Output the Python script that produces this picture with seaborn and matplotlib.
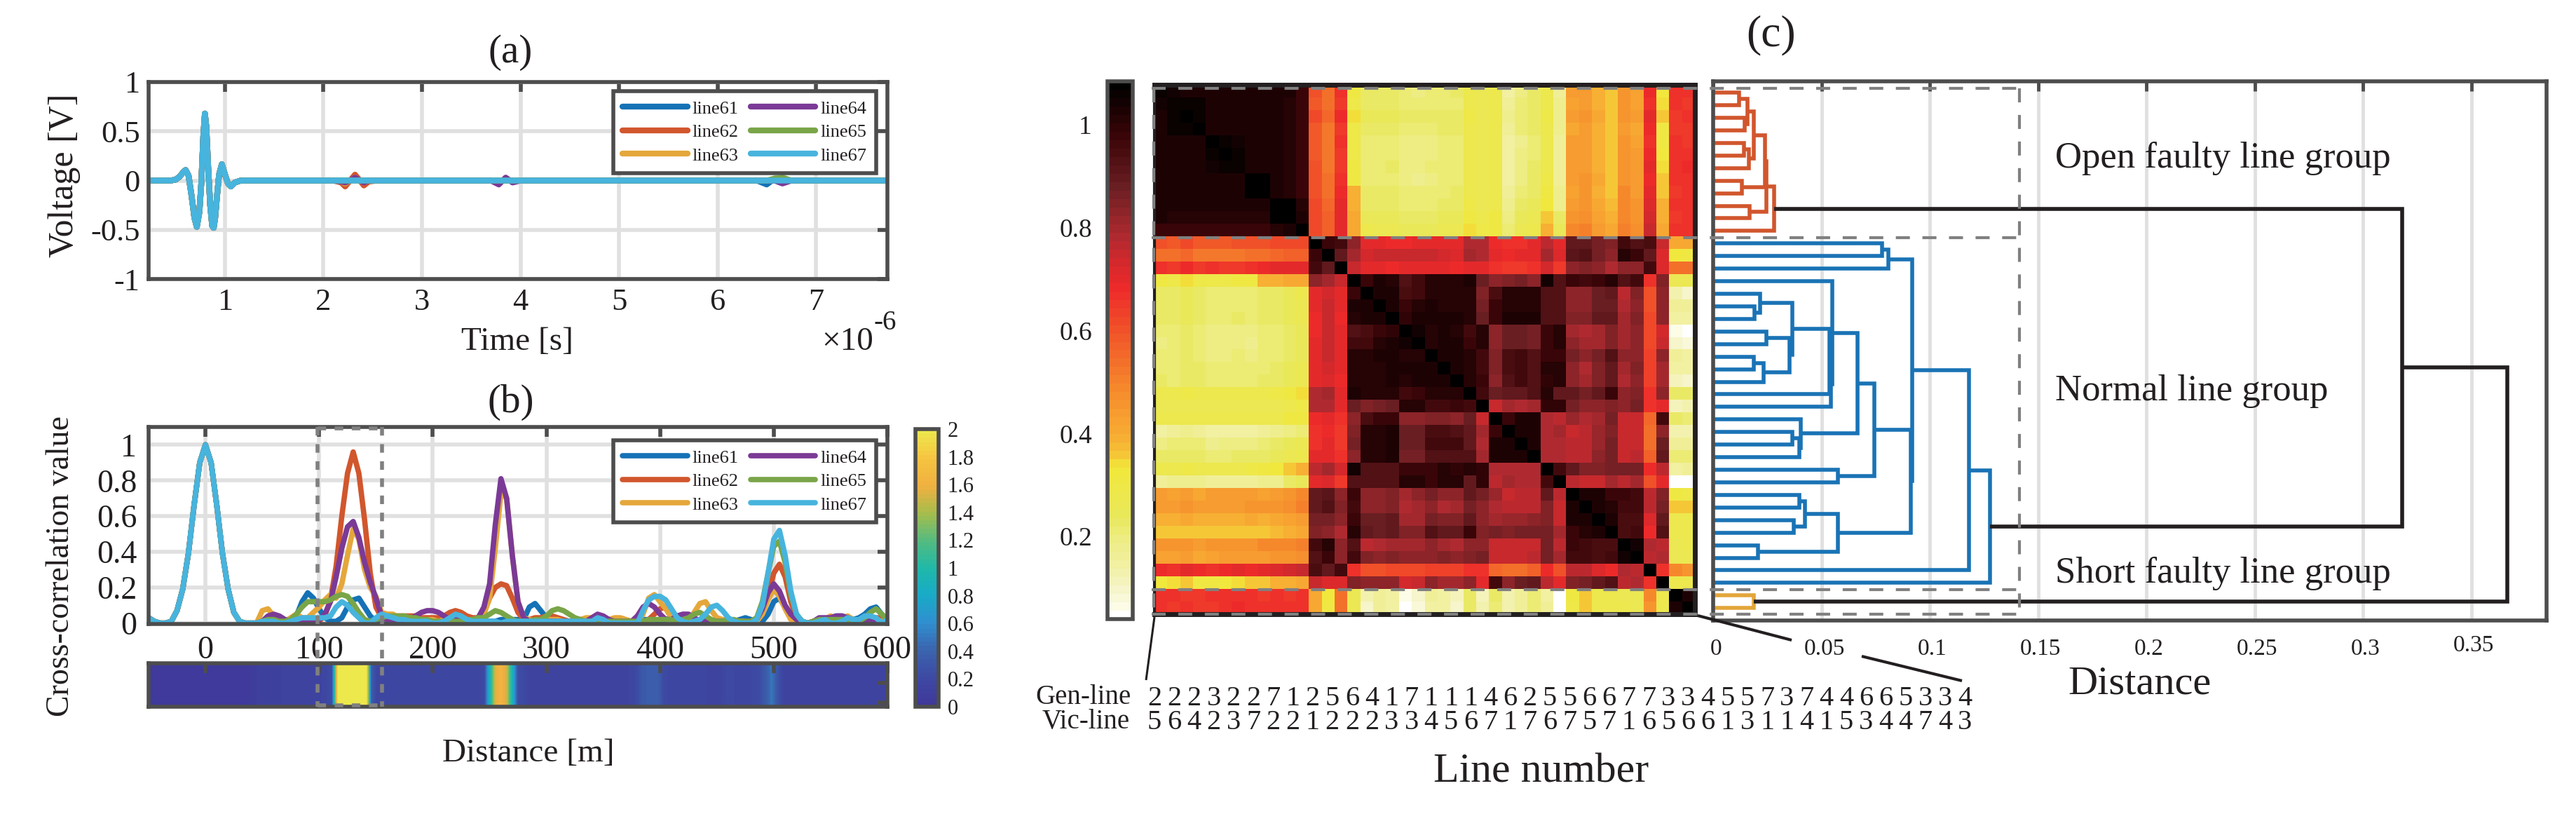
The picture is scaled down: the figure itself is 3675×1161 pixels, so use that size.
import numpy as np
import pandas as pd
import matplotlib
matplotlib.use("Agg")
import matplotlib.pyplot as plt
from matplotlib.colors import LinearSegmentedColormap, Normalize
from matplotlib.cm import ScalarMappable
from matplotlib.lines import Line2D
import seaborn as sns

W, H = 3675, 1161
sns.set_style("white")
plt.rcParams['font.family'] = ['Liberation Serif', 'DejaVu Serif']
plt.rcParams['axes.unicode_minus'] = False
INK = '#231f20'; FRAME = '#4d4d4d'; GRID = '#e0e0e0'; DASH = '#808080'

line_names = ['line61', 'line62', 'line63', 'line64', 'line65', 'line67']
line_colors = ['#1572b6', '#d1562d', '#e5a73b', '#7b3a96', '#79a548', '#47b4de']

# ---------- panel (a): time-domain voltage ----------
pulse_t = [.2244, .45, .5, .54, .58, .6, .63, .66, .69, .714, .74, .76, .78, .796, .81, .83, .85, .87, .885, .9,
           .92, .94, .968, 1.0, 1.03, 1.06, 1.1, 1.16]
pulse_v = [0, 0, .01, .04, .09, .107, .05, -.15, -.38, -.47, -.32, -.02, .45, .68, .55, .12, -.25, -.46, -.48, -.38,
           -.15, .06, .165, .06, -.03, -.06, -.02, 0]
echo_t = [2.1, 2.18, 2.22, 2.27, 2.32, 2.37, 2.41, 2.46, 2.55, 3.7, 3.78, 3.85, 3.92, 4.0,
          6.4, 6.5, 6.58, 6.66, 6.75, 6.85, 7.7255]
echo_61 = [0, 0, 0, 0, 1, 0, 0, 0, 0, 0, 0, 0, 0, 0, 0, -4, 2, 0, 0, 0, 0]
echo_62 = [0, -2, -6, 0, 6, 0, -5, -1, 0, 0, 0, 0, 0, 0, 0, 0, 0, 0, 0, 0, 0]
echo_63 = [0, -1, -3, 0, 3, 0, -2, 0, 0, 0, 0, 0, 0, 0, 0, 0, 0, 0, 0, 0, 0]
echo_64 = [0, -1, -2, 0, 3, 0, -2, 0, 0, 0, -4, 3, -2, 0, 0, 0, 0, -3, 0, 0, 0]
echo_65 = [0, 0, 0, 0, 0, 0, 0, 0, 0, 0, 0, 0, 0, 0, 0, 0, 2, 3, 0, 0, 0]
echo_67 = [0, 0, 0, 0, 0, 0, 0, 0, 0, 0, 0, 0, 0, 0, 0, 0, 0, 0, 0, 0, 0]
echoes = [echo_61, echo_62, echo_63, echo_64, echo_65, echo_67]

# ---------- panel (b): cross-correlation, sampled every 5 m from -50 m to 600 m, in hundredths ----------
distance_step = 5
peak_zero = [3, 1, 0, 0, 1, 7, 19, 39, 66, 90,
             100, 90, 66, 39, 19, 6, 1, 0, 0, 0]
corr_61 = [0, 0, 0, 0, 1, 1, 4, 12, 17, 14,
           8, 3, 1, 1, 3, 9, 13, 14, 9, 4,
           1, 1, 1, 2, 2, 2, 1, 1, 1, 1,
           1, 1, 1, 1, 2, 2, 1, 1, 1, 1,
           1, 1, 2, 2, 2, 2, 2, 9, 11, 7,
           3, 1, 1, 1, 1, 1, 1, 1, 1, 1,
           2, 2, 1, 1, 1, 1, 1, 2, 2, 2,
           1, 2, 3, 4, 4, 3, 2, 1, 1, 1,
           1, 1, 1, 1, 2, 3, 2, 1, 1, 5,
           12, 14, 9, 4, 1, 1, 0, 1, 1, 2,
           3, 4, 4, 3, 2, 3, 5, 8, 9, 5,
           2]
corr_62 = [0, 0, 0, 0, 0, 0, 1, 1, 1, 2,
           1, 4, 13, 32, 60, 84, 96, 84, 58, 28,
           9, 3, 2, 4, 4, 4, 4, 4, 3, 3,
           3, 3, 4, 6, 7, 6, 4, 3, 3, 6,
           14, 20, 22, 21, 14, 6, 2, 2, 3, 3,
           4, 4, 3, 2, 1, 1, 1, 1, 1, 1,
           1, 1, 1, 1, 1, 1, 2, 1, 2, 5,
           8, 9, 6, 3, 1, 1, 1, 1, 1, 1,
           1, 1, 1, 1, 1, 1, 1, 1, 5, 15,
           28, 33, 26, 12, 3, 1, 0, 0, 1, 1,
           1, 2, 2, 1, 1, 1, 2, 2, 3, 3,
           1]
corr_63 = [7, 8, 4, 1, 1, 3, 5, 3, 3, 6,
           9, 13, 16, 14, 22, 38, 53, 47, 30, 20,
           15, 6, 5, 5, 3, 3, 3, 2, 2, 2,
           2, 1, 2, 2, 2, 1, 1, 1, 1, 5,
           14, 42, 73, 70, 38, 12, 3, 2, 1, 1,
           2, 2, 2, 1, 1, 1, 2, 3, 3, 3,
           2, 2, 3, 3, 2, 1, 1, 5, 14, 16,
           12, 8, 3, 1, 1, 2, 6, 11, 12, 7,
           3, 2, 2, 1, 1, 1, 0, 1, 5, 13,
           19, 15, 8, 2, 0, 0, 0, 1, 1, 2,
           4, 3, 3, 4, 2, 1, 1, 2, 2, 1,
           1]
corr_64 = [1, 4, 5, 4, 2, 1, 1, 1, 1, 2,
           2, 5, 12, 26, 42, 54, 57, 48, 34, 23,
           14, 4, 2, 1, 1, 1, 2, 4, 6, 7,
           7, 6, 4, 2, 2, 1, 1, 1, 3, 9,
           22, 55, 81, 70, 38, 12, 3, 1, 1, 1,
           1, 1, 1, 1, 1, 1, 1, 1, 3, 5,
           4, 2, 1, 1, 1, 1, 4, 9, 11, 9,
           5, 2, 2, 4, 5, 5, 3, 1, 1, 0,
           1, 1, 1, 0, 0, 1, 1, 2, 8, 17,
           22, 18, 10, 5, 2, 0, 0, 1, 3, 3,
           3, 4, 4, 3, 1, 1, 1, 2, 1, 0,
           1]
corr_65 = [1, 2, 2, 1, 1, 2, 5, 9, 12, 12,
           12, 12, 13, 15, 16, 15, 11, 6, 2, 1,
           2, 3, 4, 4, 4, 4, 3, 3, 2, 2,
           1, 1, 1, 1, 1, 1, 2, 2, 3, 3,
           5, 7, 6, 4, 2, 1, 1, 1, 2, 2,
           4, 7, 8, 7, 5, 3, 2, 1, 1, 1,
           1, 1, 1, 1, 1, 1, 1, 1, 2, 2,
           2, 2, 2, 1, 2, 3, 5, 6, 4, 2,
           1, 1, 2, 2, 1, 1, 1, 3, 12, 28,
           43, 46, 34, 16, 5, 1, 0, 1, 2, 2,
           2, 2, 2, 1, 1, 1, 3, 6, 8, 5,
           2]
corr_67 = [1, 1, 1, 0, 0, 1, 2, 3, 3, 3,
           3, 3, 4, 9, 12, 10, 6, 3, 0, 0,
           3, 5, 4, 3, 2, 2, 1, 1, 1, 1,
           0, 0, 1, 3, 5, 4, 2, 1, 1, 1,
           1, 1, 0, 1, 1, 1, 1, 1, 1, 1,
           1, 1, 1, 1, 1, 1, 1, 1, 1, 3,
           2, 0, 0, 0, 0, 0, 0, 7, 13, 15,
           15, 13, 8, 3, 1, 0, 1, 2, 5, 9,
           10, 7, 3, 1, 0, 0, 0, 2, 10, 28,
           47, 52, 38, 18, 5, 1, 0, 0, 1, 2,
           0, 0, 1, 3, 2, 2, 4, 4, 3, 0,
           2]
corr_all = [corr_61, corr_62, corr_63, corr_64, corr_65, corr_67]
strip_values = [5, 5, 5, 5, 5, 5, 5, 5, 5, 5,
                5, 5, 5, 5, 5, 5, 5, 5, 8, 10,
                12, 12, 12, 12, 15, 15, 15, 15, 15, 15,
                15, 18, 25, 190, 250, 250, 250, 250, 230, 35,
                18, 18, 18, 18, 18, 18, 18, 18, 18, 18,
                18, 18, 18, 18, 18, 18, 18, 18, 18, 20,
                90, 155, 165, 150, 90, 25, 20, 15, 15, 15,
                15, 15, 15, 15, 15, 15, 15, 15, 15, 15,
                15, 15, 15, 15, 15, 16, 20, 32, 35, 35,
                35, 20, 18, 16, 16, 16, 16, 16, 16, 15,
                15, 15, 20, 20, 16, 16, 18, 20, 25, 35,
                50, 30, 15, 15, 15, 15, 15, 15, 15, 15,
                15, 15, 15, 15, 15, 15, 15, 15, 15, 15,
                15]

# ---------- panel (c): similarity matrix, upper triangle, in hundredths ----------
gen_line = [2,2,2,3,2,2,7,1,2,5,6,4,1,7,1,1,1,4,6,2,5,5,6,6,7,7,3,3,4,5,5,7,3,7,4,4,6,6,5,3,3,4]
vic_line = [5,6,4,2,3,7,2,2,1,2,2,2,3,3,4,5,6,7,1,7,6,7,5,7,1,6,5,6,6,1,3,1,1,4,1,5,3,4,4,7,4,3]
heat_rows = [
 [108,106,104,105,105,105,105,104,104,105,104,100, 62,56,68,33,24,24,25,22,21,22,23,24,30,28,29,17,21,24,29,18,45,46,41,37,48,44,70,34,68,68],
 [108,107,107,105,105,105,104,104,104,103,99, 61,55,67,31,25,24,24,22,22,22,23,23,30,28,29,18,22,24,30,19,44,46,41,37,47,44,69,36,68,67],
 [109,108,105,104,105,104,104,105,103,100, 63,57,70,36,26,26,26,24,24,24,25,25,31,28,29,19,23,25,31,20,45,47,42,38,48,46,72,37,67,68],
 [109,105,104,105,104,104,105,103,100, 60,53,66,31,24,24,24,22,22,22,24,24,30,28,29,18,22,24,30,19,43,46,40,37,46,43,70,33,66,66],
 [109,108,106,105,104,104,103,99, 61,54,68,31,23,23,23,21,21,21,23,23,30,28,29,16,20,23,29,18,45,46,41,37,48,44,69,33,68,67],
 [109,107,104,104,104,103,100, 61,54,67,31,23,23,23,21,21,21,22,23,30,27,29,16,21,23,29,18,45,46,41,37,47,45,70,34,68,68],
 [108,104,104,104,103,99, 62,54,67,32,23,23,24,21,21,22,22,23,30,27,29,17,21,24,30,18,45,46,41,38,47,45,71,36,69,70],
 [110,109,104,103,99, 62,55,68,33,23,23,23,21,20,21,22,23,30,27,29,17,21,24,31,18,46,47,42,38,48,46,70,37,68,69],
 [110,104,103,100, 62,56,70,40,25,25,24,22,22,22,23,24,30,27,29,18,23,25,33,19,44,47,41,38,50,46,72,38,67,68],
 [109,109,103, 63,57,71,40,25,25,25,23,23,23,24,25,31,28,29,20,24,26,34,20,46,48,43,39,50,47,73,40,68,68],
 [110,104, 63,58,71,42,26,26,26,24,24,25,26,26,33,30,32,21,26,28,38,24,47,49,44,40,51,48,75,41,67,68],
 [110, 64,58,72,42,29,28,28,26,26,26,27,28,35,31,33,22,27,29,40,26,50,52,46,43,52,49,77,42,68,69],
 [110,100,98,84,72,71,70,70,71,71,71,72,80,80,70,68,69,71,78,72,92,92,88,86,98,94,96,76,43,42],
 [110,92,82,75,76,77,77,76,76,75,74,81,80,72,70,71,71,82,73,93,94,88,85,102,100,92,74,34,33],
 [110,76,71,71,70,72,71,71,71,70,72,71,69,66,67,68,75,66,85,86,85,80,84,84,98,74,55,55],
 [110,100,104,102,95,97,103,103,102,104,90,84,86,88,84,106,95,100,97,99,103,95,98,68,86,27,27],
 [110,105,104,96,97,103,103,103,102,86,96,103,103,103,94,94,84,84,90,92,78,86,62,85,14,12],
 [110,105,100,103,104,103,103,102,88,99,103,103,103,94,94,85,85,90,90,80,85,62,85,18,18],
 [110,101,104,104,104,104,103,90,100,104,104,104,95,95,86,86,92,92,82,86,63,85,17,16],
 [110,106,103,104,103,98,102,84,90,90,88,100,103,82,80,82,87,82,85,63,75,8,7],
 [110,103,104,104,100,102,84,90,90,88,100,103,84,82,82,87,82,85,64,77,11,10],
 [110,105,104,102,97,86,96,97,94,100,100,88,84,88,94,84,84,65,85,18,17],
 [110,105,103,98,86,96,98,94,102,102,84,80,86,92,82,86,65,82,16,17],
 [110,103,99,85,95,97,95,101,103,84,81,86,92,80,84,65,82,13,12],
 [110,98,90,92,92,95,102,92,92,88,92,100,85,86,68,84,24,24],
 [110,76,82,80,82,101,101,88,84,84,86,85,88,68,72,13,15],
 [110,100,104,105,80,79,83,80,82,88,76,76,57,97,24,22],
 [110,104,104,80,82,77,78,83,87,76,77,55,85,14,15],
 [110,105,80,80,78,78,83,88,76,77,56,90,18,18],
 [110,80,80,79,79,85,88,77,78,58,92,22,22],
 [110,97,92,86,86,88,88,88,70,78,17,18],
 [110,78,76,76,82,78,82,62,71,5,6],
 [110,105,104,100,100,98,78,86,32,31],
 [110,105,102,97,98,78,88,37,38],
 [110,105,96,96,74,92,30,30],
 [110,96,97,70,95,30,30],
 [110,106,80,78,28,29],
 [110,78,80,28,28],
 [110,68,50,48],
 [110,30,30],
 [109,105],
 [110],
]
# dendrogram as a linkage list: ids below 42 are leaves, 42+k is merge k
merge_a = [0,2,42,4,45,44,7,9,47,50,51, 12,53,17,16,19,21,58,57,56,61,62,15,27,65,26,64,30,68,32,34,71,36,73,70,54,77,78, 40, 52,81]
merge_b = [1,3,43,5,6,46,8,10,48,49,11, 13,14,18,55,20,22,23,59,60,24,25,63,28,29,66,67,31,69,33,35,72,37,74,75,76,38,39, 41, 79,80]
merge_h = [.0121,.0147,.016,.0142,.0166,.0187,.0134,.0168,.024,.0247,.028,
           .0779,.081,.0192,.0218,.0245,.0187,.0232,.0353,.0366,.0537,.0542,.055,.0366,.0397,.0405,.0666,.0576,.0745,
           .0397,.0371,.0424,.0208,.0576,.0911,.0918,.1182,.1279,
           .0187, .3182,.3666]
merge_group = ['#d1562d']*11 + ['#1a73b5']*27 + ['#e3a63a'] + [INK]*2

# ---------- helpers ----------
fig = plt.figure(figsize=(W/100, H/100), dpi=100, facecolor='white')

def pax(x0, y0, x1, y1):
    return fig.add_axes([x0/W, 1-y1/H, (x1-x0)/W, (y1-y0)/H])

def ftext(x, y, s, size, ha='center', va='center', **kw):
    fig.text(x/W, 1-y/H, s, fontsize=size, ha=ha, va=va, color=INK, **kw)

def fline(xs, ys, color=INK, lw=3, ls='-', z=6):
    fig.add_artist(Line2D([v/W for v in xs], [1-v/H for v in ys], transform=fig.transFigure,
                          color=color, lw=lw, ls=ls, zorder=z, solid_capstyle='butt', dash_capstyle='butt'))

def style_axes(ax, lw=4, color=FRAME):
    for s in ax.spines.values():
        s.set_visible(True); s.set_linewidth(lw); s.set_color(color)

def style_line_axes(ax, size=32, pad=9):
    style_axes(ax)
    ax.grid(True, color=GRID, lw=4)
    ax.set_axisbelow(True)
    ax.tick_params(direction='in', length=10, width=4, color=FRAME, top=True, right=True,
                   labelsize=size, pad=pad, labelcolor=INK)
    ax.set_xlabel(''); ax.set_ylabel('')

def add_legend(ax, top):
    h, l = ax.get_legend_handles_labels()
    leg = ax.legend(h, l, ncol=2, loc='upper left', bbox_to_anchor=(875/W, 1-top/H), bbox_transform=fig.transFigure,
                    borderaxespad=0, fontsize=19, handlelength=3.5, handletextpad=.27, columnspacing=.65,
                    labelspacing=.38, borderpad=.5, fancybox=False, framealpha=1, edgecolor=FRAME)
    leg.get_frame().set_linewidth(4)
    leg.set_zorder(5)
    for t in leg.get_texts():
        t.set_color(INK)

# ---------- panel (a) ----------
ax_a = pax(212, 117, 1266, 398)
frames = []
for name, echo in zip(line_names, echoes):
    frames.append(pd.DataFrame({'t': pulse_t + echo_t,
                                'v': pulse_v + [e/100 for e in echo], 'line': name}))
sns.lineplot(data=pd.concat(frames), x='t', y='v', hue='line', hue_order=line_names, palette=line_colors,
             estimator=None, lw=6, ax=ax_a)
ax_a.set_xlim(.2244, 7.7255); ax_a.set_ylim(-1, 1)
ax_a.set_xticks(range(1, 8)); ax_a.set_yticks([-1, -.5, 0, .5, 1])
ax_a.set_yticklabels(['-1', '-0.5', '0', '0.5', '1'])
style_line_axes(ax_a)
add_legend(ax_a, 130)
ftext(728, 75, '(a)', 41)
ftext(738, 488, 'Time [s]', 34)
ftext(1172, 488, '×10', 34, ha='left')
ftext(1247, 460, '-6', 28, ha='left')
ftext(92, 250, 'Voltage [V]', 36, rotation=90)

# ---------- panel (b) ----------
ax_b = pax(212, 609, 1266, 890)
dist = [-50 + distance_step*i for i in range(len(peak_zero) + len(corr_61))]
frames = []
for name, tail in zip(line_names, corr_all):
    frames.append(pd.DataFrame({'d': dist, 'c': [v/100 for v in peak_zero + tail], 'line': name}))
sns.lineplot(data=pd.concat(frames), x='d', y='c', hue='line', hue_order=line_names, palette=line_colors,
             estimator=None, lw=5.5, ax=ax_b)
ax_b.set_xlim(-50, 600); ax_b.set_ylim(-.005, 1.1)
ax_b.set_xticks(range(0, 601, 100)); ax_b.set_yticks([0, .2, .4, .6, .8, 1])
ax_b.set_yticklabels(['0', '0.2', '0.4', '0.6', '0.8', '1'])
style_line_axes(ax_b, size=33, pad=12)
add_legend(ax_b, 628)
ftext(729, 574, '(b)', 41)
ftext(754, 1075, 'Distance [m]', 34)
ftext(87, 807, 'Cross-correlation value', 33, rotation=90)

parula = LinearSegmentedColormap.from_list('parula_like', [
    (0, '#40389a'), (.1, '#3d4aa3'), (.2, '#3b64ae'), (.3, '#2f8fcf'), (.4, '#19aac8'), (.5, '#20b9a8'),
    (.6, '#55bb80'), (.7, '#a6bd4c'), (.8, '#f0b040'), (.9, '#f6c340'), (1, '#ede84c')], N=64)
ax_s = pax(212, 946, 1266, 1008)
ax_s.imshow(np.array(strip_values)[None, :]/100, extent=(-50, 600, 0, 1), aspect='auto', cmap=parula,
            vmin=0, vmax=2, interpolation='bilinear')
style_axes(ax_s)
ax_s.set_xticks(range(0, 601, 100)); ax_s.set_yticks([.1, .55])
ax_s.tick_params(direction='in', length=10, width=4, color=FRAME, top=True, right=True,
                 labelbottom=False, labelleft=False)

cax_b = pax(1306, 612, 1339, 1008)
cb = fig.colorbar(ScalarMappable(Normalize(0, 2), parula), cax=cax_b)
cb.set_ticks(np.arange(0, 2.01, .2))
cb.set_ticklabels(['0', '0.2', '0.4', '0.6', '0.8', '1', '1.2', '1.4', '1.6', '1.8', '2'])
cb.outline.set_linewidth(4); cb.outline.set_edgecolor(FRAME)
cax_b.tick_params(direction='in', length=8, width=3, color=FRAME, labelsize=22, pad=9, labelcolor=INK)

b_dash = (0, (2.2, 2.2))
fline([453, 453], [609, 1008], DASH, 4, b_dash)
fline([545, 545], [609, 1008], DASH, 4, b_dash)
fline([453, 545], [611, 611], DASH, 4, b_dash)
fline([453, 545], [1006, 1006], DASH, 4, b_dash)

# ---------- panel (c): heat map ----------
hot = LinearSegmentedColormap.from_list('hot_like', [
    (0, '#ffffff'), (.015, '#fcfce8'), (.042, '#f7f6d0'), (.09, '#f2f0a4'), (.138, '#eeee88'), (.186, '#e9e85a'),
    (.282, '#f2e83a'), (.291, '#f4d038'), (.33, '#f7b034'), (.425, '#f68a2c'), (.521, '#f15a29'), (.617, '#ee2a2a'),
    (.665, '#d4282c'), (.713, '#b02a30'), (.808, '#6a1e22'), (.904, '#3a0508'), (1, '#000000')], N=64)
matrix = np.zeros((42, 42))
for i, row in enumerate(heat_rows):
    matrix[i, i:] = np.array(row)/100
    matrix[i:, i] = np.array(row)/100
ax_h = pax(1647, 121, 2418, 876)
cax_c = pax(1580, 116, 1616, 883)
sns.heatmap(matrix, ax=ax_h, cbar_ax=cax_c, cmap=hot, vmin=.056, vmax=1.1, xticklabels=False, yticklabels=False)
style_axes(ax_h, 5, INK)
ax_h.spines['left'].set_linewidth(3)
cb2 = ax_h.collections[0].colorbar
cb2.outline.set_visible(True); cb2.outline.set_linewidth(4); cb2.outline.set_edgecolor(FRAME)
cb_vals = [.2, .4, .6, .8, 1]
cb2.set_ticks(cb_vals); cb2.set_ticklabels([])
cax_c.yaxis.set_ticks_position('left')
cax_c.tick_params(direction='in', length=9, width=3, color=FRAME)
for v in cb_vals:
    cax_c.annotate(f'{v:g}', xy=(0, v), xycoords=('axes fraction', 'data'), xytext=(-22, 8),
                   textcoords='offset pixels', ha='right', va='center', fontsize=27, color=INK)

# ---------- panel (c): dendrogram ----------
ax_d = pax(2444, 116, 3633, 885)
node_y = {i: float(i) for i in range(42)}
node_h = {i: 0.0 for i in range(42)}
for k, (a, b, h, col) in enumerate(zip(merge_a, merge_b, merge_h, merge_group)):
    ax_d.plot([node_h[a], h, h, node_h[b]], [node_y[a], node_y[a], node_y[b], node_y[b]],
              color=col, lw=4, solid_joinstyle='miter', solid_capstyle='butt')
    node_y[42+k] = (node_y[a] + node_y[b]) / 2
    node_h[42+k] = h
ax_d.set_xlim(0, .3847); ax_d.set_ylim(41.99, -.9)
style_axes(ax_d)
dist_ticks = [0, .05, .1, .15, .2, .25, .3, .35]
dist_label_y = [926, 926, 926, 926, 926, 926, 926, 921]
ax_d.set_xticks(dist_ticks); ax_d.set_yticks([])
ax_d.grid(True, axis='x', color=GRID, lw=3.5); ax_d.set_axisbelow(True)
ax_d.tick_params(axis='x', direction='in', length=10, width=3.5, color=FRAME, top=True, labelbottom=False)
for v, py in zip(dist_ticks, dist_label_y):
    ftext(2444 + v*3089 + 4, py, f'{v:g}', 24)

ftext(2932, 226, 'Open faulty line group', 38, ha='left')
ftext(2932, 558, 'Normal line group', 38, ha='left')
ftext(2932, 818, 'Short faulty line group', 38, ha='left')
ftext(2527, 50, '(c)', 46)
ftext(3053, 976, 'Distance', 42)
ftext(2199, 1102, 'Line number', 43)

c_dash = (0, (4.8, 4.3))
for y in [126, 339, 841, 876]:
    fline([1643, 2881], [y, y], DASH, 3, c_dash)
fline([2881, 2881], [126, 876], DASH, 3, c_dash)
fline([1646, 1646], [126, 876], DASH, 3, c_dash)

# row labels under the heat map and their connectors
ftext(1614, 995, 'Gen-line', 28, ha='right')
ftext(1612, 1029, 'Vic-line', 28, ha='right')
for i, (g, v) in enumerate(zip(gen_line, vic_line)):
    x = 1647 + i*28.2
    ftext(x, 996, str(g), 29)
    ftext(x, 1030, str(v), 29)
fline([1647, 1635], [880, 970], INK, 2.2)
fline([2422, 2556], [878, 913], INK, 3)
fline([2656, 2799], [936, 971], INK, 3)

fig.savefig('out.png', dpi=100, facecolor='white')
